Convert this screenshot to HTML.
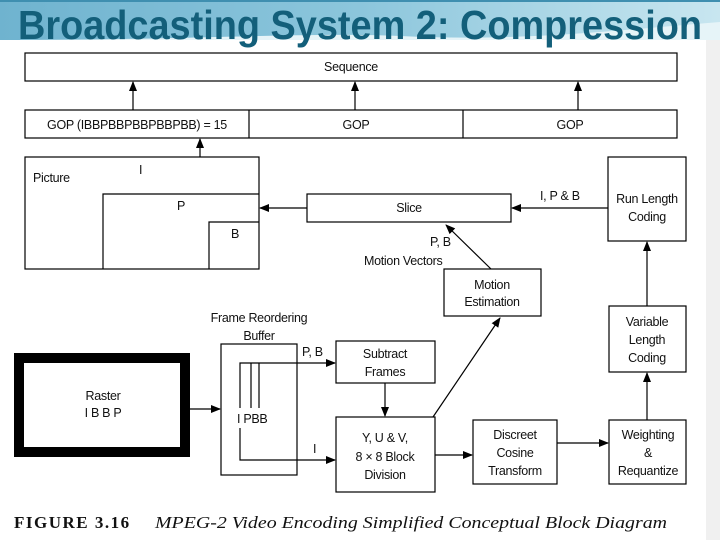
<!DOCTYPE html>
<html><head><meta charset="utf-8"><style>
html,body{margin:0;padding:0;background:#fff;}
svg{display:block;}
text{font-family:"Liberation Sans",sans-serif;font-size:12.5px;letter-spacing:-0.3px;fill:#111;}
</style></head><body>
<svg width="720" height="540" viewBox="0 0 720 540" xmlns="http://www.w3.org/2000/svg">
<defs>
<linearGradient id="g" x1="0" y1="0" x2="1" y2="0">
<stop offset="0" stop-color="#6fb3cf"/><stop offset="0.5" stop-color="#8cc6dc"/><stop offset="1" stop-color="#c8e6f0"/>
</linearGradient>
<marker id="a" markerWidth="10" markerHeight="10" refX="9" refY="5" orient="auto" markerUnits="userSpaceOnUse">
<path d="M0,1 L10,5 L0,9 z" fill="#000"/></marker>
</defs>
<rect x="0" y="0" width="720" height="40" fill="url(#g)"/>
<path d="M0,40 L720,40 L720,22 C620,30 520,42 400,36 C300,32 200,40 0,40 z" fill="#e6f4f8"/>
<rect x="0" y="0" width="720" height="2" fill="#3f8fb0"/>
<rect x="706" y="40" width="14" height="500" fill="#f0f0f0"/>
<text x="18" y="39" textLength="684" lengthAdjust="spacingAndGlyphs" style="font-size:41px;font-weight:bold;fill:#135f7a;letter-spacing:0;">Broadcasting System 2: Compression</text>

<g fill="none" stroke="#000" stroke-width="1.2">
<rect x="25" y="53" width="652" height="28"/>
<rect x="25" y="110" width="652" height="28"/>
<line x1="249" y1="110" x2="249" y2="138"/>
<line x1="463" y1="110" x2="463" y2="138"/>
<line x1="133" y1="110" x2="133" y2="82" marker-end="url(#a)"/>
<line x1="355" y1="110" x2="355" y2="82" marker-end="url(#a)"/>
<line x1="578" y1="110" x2="578" y2="82" marker-end="url(#a)"/>
<line x1="200" y1="157" x2="200" y2="139" marker-end="url(#a)"/>
<rect x="25" y="157" width="234" height="112"/>
<polyline points="103,269 103,194 259,194"/>
<polyline points="209,269 209,222 259,222"/>
<rect x="307" y="194" width="204" height="28"/>
<line x1="307" y1="208" x2="260" y2="208" marker-end="url(#a)"/>
<rect x="608" y="157" width="78" height="84"/>
<line x1="608" y1="208" x2="512" y2="208" marker-end="url(#a)"/>
<rect x="444" y="269" width="97" height="47"/>
<line x1="491" y1="269" x2="446" y2="225" marker-end="url(#a)"/>
<rect x="609" y="306" width="77" height="66"/>
<line x1="647" y1="420" x2="647" y2="373" marker-end="url(#a)"/>
<line x1="647" y1="306" x2="647" y2="242" marker-end="url(#a)"/>
<rect x="221" y="344" width="76" height="131"/>
<rect x="19" y="358" width="166" height="94" stroke-width="10"/>
<line x1="190" y1="409" x2="220" y2="409" marker-end="url(#a)"/>
<polyline points="240,408 240,363 335,363" marker-end="url(#a)"/>
<line x1="251" y1="363" x2="251" y2="408"/>
<line x1="259" y1="363" x2="259" y2="408"/>
<polyline points="240,428 240,460 335,460" marker-end="url(#a)"/>
<rect x="336" y="341" width="99" height="42"/>
<line x1="385" y1="383" x2="385" y2="416" marker-end="url(#a)"/>
<rect x="336" y="417" width="99" height="75"/>
<line x1="433" y1="417" x2="500" y2="318" marker-end="url(#a)"/>
<rect x="473" y="420" width="84" height="64"/>
<line x1="435" y1="455" x2="472" y2="455" marker-end="url(#a)"/>
<rect x="609" y="420" width="77" height="64"/>
<line x1="557" y1="443" x2="608" y2="443" marker-end="url(#a)"/>
</g>

<g text-anchor="middle">
<text x="351" y="71">Sequence</text>
<text x="137" y="129">GOP (IBBPBBPBBPBBPBB) = 15</text>
<text x="356" y="129">GOP</text>
<text x="570" y="129">GOP</text>
<text x="409" y="212">Slice</text>
<text x="647" y="203">Run Length</text>
<text x="647" y="221">Coding</text>
<text x="492" y="289">Motion</text>
<text x="492" y="306">Estimation</text>
<text x="647" y="326">Variable</text>
<text x="647" y="344">Length</text>
<text x="647" y="362">Coding</text>
<text x="259" y="322">Frame Reordering</text>
<text x="259" y="340">Buffer</text>
<text x="103" y="400">Raster</text>
<text x="103" y="417">I B B P</text>
<text x="385" y="358">Subtract</text>
<text x="385" y="376">Frames</text>
<text x="385" y="442">Y, U &amp; V,</text>
<text x="385" y="461">8 × 8 Block</text>
<text x="385" y="479">Division</text>
<text x="515" y="439">Discreet</text>
<text x="515" y="457">Cosine</text>
<text x="515" y="475">Transform</text>
<text x="648" y="439">Weighting</text>
<text x="648" y="457">&amp;</text>
<text x="648" y="475">Requantize</text>
</g>
<text x="33" y="182">Picture</text>
<text x="139" y="174">I</text>
<text x="177" y="210">P</text>
<text x="231" y="238">B</text>
<text x="540" y="200">I, P &amp; B</text>
<text x="430" y="246">P, B</text>
<text x="364" y="265">Motion Vectors</text>
<text x="302" y="356">P, B</text>
<text x="237" y="423">I PBB</text>
<text x="313" y="453">I</text>
<text x="14" y="528" style="font-family:'Liberation Serif',serif;font-size:17px;font-weight:bold;letter-spacing:1.5px;">FIGURE 3.16</text>
<text x="155" y="528" textLength="512" lengthAdjust="spacingAndGlyphs" style="font-family:'Liberation Serif',serif;font-size:17px;font-style:italic;letter-spacing:0;">MPEG-2 Video Encoding Simplified Conceptual Block Diagram</text>
</svg>
</body></html>
